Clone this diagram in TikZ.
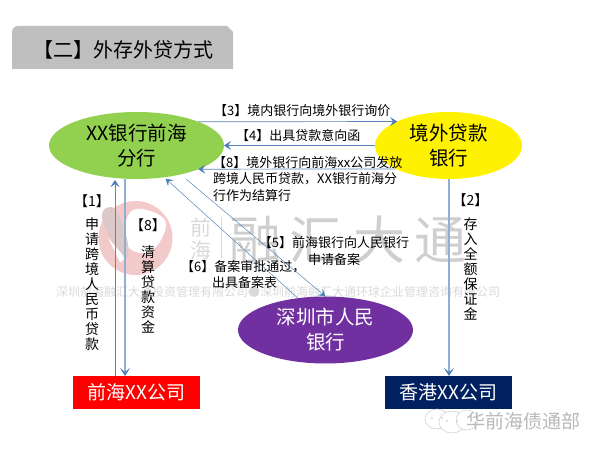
\documentclass[tikz,border=0pt]{standalone}
\usepackage{fontspec}
\setmainfont{Noto Sans CJK SC}
\usetikzlibrary{arrows.meta,shapes.geometric}
\definecolor{lineblue}{HTML}{5A86B8}
\definecolor{paleblue}{HTML}{8FB0D2}
\definecolor{tipblue}{HTML}{4A7EBB}
\definecolor{bankgreen}{HTML}{92D050}
\definecolor{bankpurple}{HTML}{7030A0}
\definecolor{navyfill}{HTML}{002060}
\definecolor{titlegray}{HTML}{BFBFBF}
\definecolor{markgray}{HTML}{DADADA}
\definecolor{brushgray}{HTML}{CFCFCF}
\definecolor{markred}{HTML}{F3CACA}
\definecolor{bladegray}{HTML}{DCC8C8}
\tikzset{
  x=1pt,y=1pt,
  bank/.style={ellipse,draw=none,outer sep=0pt,inner xsep=0pt,inner ysep=-5pt,minimum height=67pt,align=center,execute at begin node=\vspace*{4pt},font=\fontsize{19.5}{25}\selectfont},
  firm/.style={rectangle,draw=none,outer sep=0pt,inner sep=0pt,minimum width=127pt,minimum height=33pt,text=white,font=\fontsize{19}{22}\selectfont},
  thin link/.style={-{Stealth[length=7pt,width=9pt,inset=3pt,color=tipblue]},draw=lineblue,line width=.7pt},
  thick link/.style={-{Stealth[length=8pt,width=10pt,inset=4pt,color=tipblue]},draw=paleblue,line width=1.4pt},
  fine link/.style={-{Stealth[length=7pt,width=8pt,inset=3pt,color=tipblue]},draw=lineblue,line width=.5pt},
  note/.style={inner sep=0pt,align=left,font=\fontsize{13}{16.5}\selectfont},
  vnote/.style={inner sep=0pt,align=center,font=\fontsize{14}{15}\selectfont},
  wmark/.style={inner sep=0pt,text=markgray},
  chat/.style={draw=gray!40,fill=white,line width=.5pt},
}
\begin{document}
\begin{tikzpicture}
\useasboundingbox (0,0) rectangle (600,450);
\fill[white] (0,0) rectangle (600,450);
% title tab
\fill[titlegray] (12,381) -- (12,418) arc[start angle=180,end angle=90,radius=6] -- (227,424) -- (233,418) -- (233,381) -- cycle;
\node[inner sep=0pt,font=\fontsize{20}{22}\selectfont] (title) at (124,400) {【二】外存外贷方式};
% watermark logo
\fill[markred] (135.5,212) circle[radius=37];
\fill[white] plot[smooth cycle,tension=.7] coordinates {(129,236) (147,240) (166,226) (150,198) (126,206)};
\fill[bladegray] plot[smooth cycle,tension=.7] coordinates {(102,232) (115,241) (128,206) (122,192)};
\fill[white] plot[smooth,tension=.7] coordinates {(108,212) (116,203) (124,192) (120,188)} -- cycle;
\node[wmark,font=\fontsize{21}{23}\selectfont,align=center] (wm1) at (201,211.5) {前\\海};
\draw[markgray,line width=.5pt] (221,233) -- (221,192);
\node[wmark,font=\fontsize{52}{52}\selectfont,text=brushgray] (wm2) at (348,210) {融\hspace{9pt}汇\hspace{12pt}大\hspace{9pt}通};
\node[wmark,font=\fontsize{12}{14}\selectfont] (wm3) at (278,158) {深圳前海融汇大通投资管理有限公司●深圳前海融汇大通环球企业管理咨询有限公司};
% nodes
\node[bank,fill=bankgreen,minimum width=175pt] (green) at (136.5,304.5) {XX银行前海\\分行};
\node[bank,fill=yellow,minimum width=147pt] (gold) at (448.5,304.5) {境外贷款\\银行};
\node[bank,fill=bankpurple,text=white,minimum width=175pt] (pboc) at (325.5,120) {深圳市人民\\银行};
\node[firm,fill=red] (qh) at (136.5,57.5) {前海XX公司};
\node[firm,fill=navyfill] (hk) at (448.5,57.5) {香港XX公司};
% guide coordinates
\coordinate (c1) at (115,0);
\coordinate (c8) at (125,0);
\coordinate (c2) at (449,0);
\coordinate (f5) at (186,271);
% connectors
\draw[thin link,shorten >=1pt] (qh.north -| c1) -- (green.south -| c1);
\draw[thick link] (green.south -| c8) -- (qh.north -| c8);
\draw[thick link] (gold.south -| c2) -- (hk.north -| c2);
\draw[thin link] (green.21) -- (gold.155.5);
\draw[thin link] (gold.180) -- (green.0);
\draw[thin link] (gold.204.5) -- (green.-21);
\draw[fine link] (f5) -- (pboc.north);
\draw[fine link,shorten >=2pt] (pboc.131.3) -- (green.-49.8);
% labels
\node[note,anchor=west] (l3) at (214,339) {【3】境内银行向境外银行询价};
\node[note,anchor=west] (l4) at (236,314) {【4】出具贷款意向函};
\node[note,anchor=north west] (l8) at (213,294) {【8】境外银行向前海xx公司发放\\跨境人民币贷款，XX银行前海分\\行作为结算行};
\node[note,align=center,anchor=north] (l5) at (334,213.5) {【5】前海银行向人民银行\\申请备案};
\node[note,anchor=north west] (l6) at (181,190) {【6】备案审批通过，\\\hspace*{31pt}出具备案表};
\node[vnote,anchor=north] (l1) at (92,256) {【1】\\[8pt]申\\请\\跨\\境\\人\\民\\币\\贷\\款};
\node[vnote,anchor=north] (l82) at (148,232) {【8】\\[12pt]清\\算\\贷\\款\\资\\金};
\node[vnote,anchor=north] (l2) at (470.5,257) {【2】\\[9pt]存\\入\\全\\额\\保\\证\\金};
% stamp
\draw[chat] (437,31) ellipse[x radius=12,y radius=10];
\draw[chat] (452,28) ellipse[x radius=13,y radius=11];
\draw[chat] (467,30) ellipse[x radius=11,y radius=10];
\fill[gray!50] (432,32) circle[radius=.8] (442,32) circle[radius=.8] (447,29) circle[radius=.8] (457,29) circle[radius=.8];
\node[inner sep=0pt,font=\fontsize{19}{21}\selectfont,text=gray!55] (stamp) at (523,29) {华前海债通部};
\end{tikzpicture}
\end{document}
